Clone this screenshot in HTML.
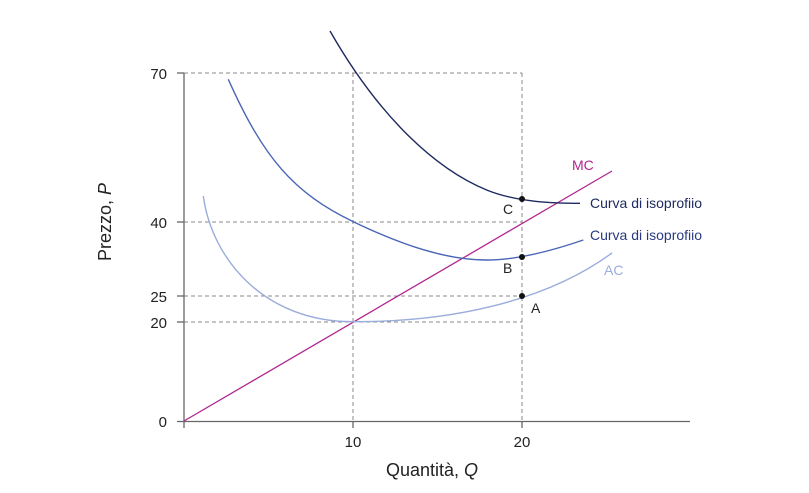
<!DOCTYPE html>
<html><head><meta charset="utf-8"><style>
body{margin:0;background:#fff;}
svg{display:block;font-family:"Liberation Sans",sans-serif;}
</style></head><body>
<svg width="809" height="493" viewBox="0 0 809 493" xmlns="http://www.w3.org/2000/svg">
<g stroke="#888" stroke-width="1" stroke-dasharray="4,3" fill="none">
<line x1="184" y1="73" x2="522" y2="73"/>
<line x1="184" y1="222" x2="522" y2="222"/>
<line x1="184" y1="296" x2="522" y2="296"/>
<line x1="184" y1="322" x2="522" y2="322"/>
<line x1="353" y1="73" x2="353" y2="421"/>
<line x1="522" y1="73" x2="522" y2="421"/>
</g>
<g stroke="#666" stroke-width="1.3">
<line x1="184" y1="73" x2="184" y2="428"/>
<line x1="177" y1="421.5" x2="690" y2="421.5"/>
<line x1="177" y1="73" x2="184" y2="73"/>
<line x1="177" y1="222" x2="184" y2="222"/>
<line x1="177" y1="296" x2="184" y2="296"/>
<line x1="177" y1="322" x2="184" y2="322"/>
<line x1="353" y1="421" x2="353" y2="428"/>
<line x1="522" y1="421" x2="522" y2="428"/>
</g>
<g font-size="15" fill="#222" text-anchor="end">
<text x="167" y="79">70</text>
<text x="167" y="228">40</text>
<text x="167" y="302">25</text>
<text x="167" y="328">20</text>
<text x="167" y="427">0</text>
</g>
<g font-size="15" fill="#222" text-anchor="middle">
<text x="353" y="447">10</text>
<text x="522" y="447">20</text>
<text x="432" y="476" font-size="18">Quantità, <tspan font-style="italic">Q</tspan></text>
<text transform="translate(111,222) rotate(-90)" font-size="18">Prezzo, <tspan font-style="italic">P</tspan></text>
</g>
<line x1="184" y1="421" x2="612" y2="171" stroke="#b0268f" stroke-width="1.3"/>
<g fill="none" stroke-width="1.4">
<path stroke="#9aaddb" d="M203.3,196 C212,260 265,322 353.3,321.7 C450,322 545,302 612,253"/>
<path stroke="#4a65b5" d="M228.3,79.3 C263.3,157.7 293.3,192.9 353.3,221.7 C403.3,245.7 446.7,260 486.7,260 C520,260 560,248 583.3,240"/>
<path stroke="#1e2a60" d="M330,31 C380,118.5 436.7,169.5 486.7,190 C516.7,202.3 555,203.3 580,203.3"/>
</g>
<g fill="#111">
<circle cx="522" cy="199" r="3"/>
<circle cx="522" cy="257" r="3"/>
<circle cx="522" cy="296" r="3"/>
</g>
<g font-size="14" fill="#222">
<text x="503" y="214">C</text>
<text x="503" y="273">B</text>
<text x="531" y="313">A</text>
</g>
<g font-size="14">
<text x="572" y="170" fill="#b0268f">MC</text>
<text x="590" y="208" fill="#1e2a60">Curva di isoprofiio</text>
<text x="590" y="240" fill="#2a3a80">Curva di isoprofiio</text>
<text x="604" y="275" fill="#9aaddb">AC</text>
</g>
</svg>
</body></html>
